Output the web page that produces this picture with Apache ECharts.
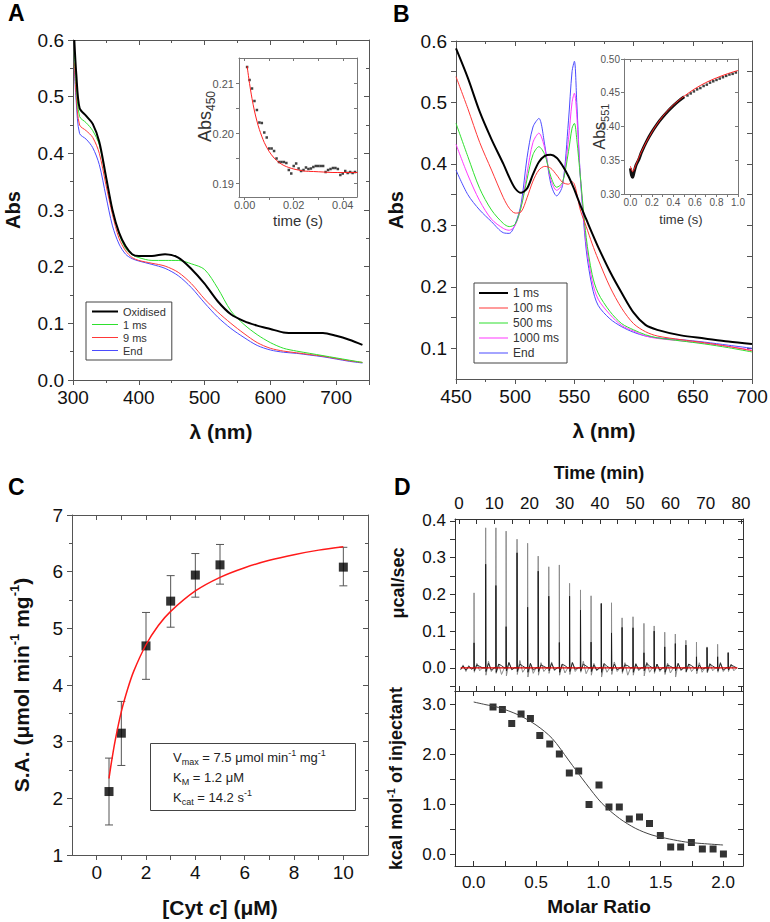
<!DOCTYPE html>
<html>
<head>
<meta charset="utf-8">
<script src="https://cdn.jsdelivr.net/npm/echarts@6/dist/echarts.min.js"></script>
<style>html,body{margin:0;padding:0;background:#fff}#fig{width:770px;height:922px}</style>
</head>
<body>
<div id="fig"></div>
<script>
var FONT = 'Liberation Sans, Arial, sans-serif';

// ---- panel A: spectra (nm / Abs) ----
var wlA = [302, 305, 310, 320, 330, 340, 350, 360, 370, 380, 390, 400, 420, 440, 460, 480, 500, 520, 540, 560, 580, 600, 620, 640, 660, 680, 700, 720, 740];
var oxA = [0.60, 0.54, 0.48, 0.466, 0.452, 0.42, 0.36, 0.30, 0.26, 0.236, 0.222, 0.219, 0.219, 0.222, 0.216, 0.196, 0.170, 0.139, 0.116, 0.104, 0.096, 0.090, 0.084, 0.083, 0.083, 0.083, 0.078, 0.071, 0.062];
var ms1A = [0.58, 0.52, 0.465, 0.454, 0.44, 0.415, 0.357, 0.30, 0.258, 0.232, 0.221, 0.216, 0.211, 0.211, 0.211, 0.205, 0.195, 0.162, 0.122, 0.098, 0.080, 0.066, 0.056, 0.051, 0.047, 0.043, 0.039, 0.035, 0.031];
var ms9A = [0.56, 0.50, 0.45, 0.44, 0.428, 0.40, 0.345, 0.292, 0.25, 0.228, 0.216, 0.211, 0.206, 0.201, 0.190, 0.170, 0.143, 0.120, 0.100, 0.082, 0.066, 0.056, 0.051, 0.048, 0.045, 0.042, 0.038, 0.034, 0.031];
var endA = [0.55, 0.49, 0.435, 0.425, 0.41, 0.38, 0.325, 0.272, 0.24, 0.222, 0.214, 0.21, 0.204, 0.197, 0.184, 0.163, 0.136, 0.111, 0.091, 0.075, 0.061, 0.053, 0.049, 0.047, 0.044, 0.041, 0.037, 0.033, 0.030];
// inset A: Abs450 vs time
var tA = [0.001, 0.002, 0.003, 0.004, 0.005, 0.006, 0.007, 0.008, 0.009, 0.010, 0.011, 0.012, 0.013, 0.014, 0.015, 0.016, 0.017, 0.018, 0.019, 0.020, 0.021, 0.022, 0.023, 0.024, 0.025, 0.026, 0.027, 0.028, 0.029, 0.030, 0.031, 0.032, 0.033, 0.034, 0.035, 0.036, 0.037, 0.038, 0.039, 0.040, 0.041, 0.042, 0.043, 0.044, 0.045];
var vA = [0.2133, 0.2107, 0.2090, 0.2065, 0.2047, 0.2022, 0.2021, 0.2002, 0.1992, 0.1970, 0.1970, 0.1965, 0.1950, 0.1943, 0.1943, 0.1943, 0.1941, 0.1927, 0.1920, 0.1935, 0.1940, 0.1930, 0.1925, 0.1927, 0.1932, 0.1929, 0.1930, 0.1933, 0.1935, 0.1935, 0.1935, 0.1935, 0.1923, 0.1927, 0.1929, 0.1931, 0.1931, 0.1929, 0.1917, 0.1920, 0.1925, 0.1921, 0.1923, 0.1921, 0.1923];
var fitAt = [0.001, 0.002, 0.003, 0.004, 0.005, 0.006, 0.008, 0.010, 0.012, 0.014, 0.016, 0.018, 0.020, 0.024, 0.028, 0.032, 0.036, 0.040, 0.046];
var fitAv = [0.2135, 0.2100, 0.2070, 0.2045, 0.2025, 0.2008, 0.1982, 0.1964, 0.1951, 0.1942, 0.1936, 0.1932, 0.1929, 0.1925, 0.1924, 0.1923, 0.1922, 0.1922, 0.1922];

// ---- panel B: spectra ----
var wlB = [450, 460, 470, 480, 490, 495, 500, 505, 510, 515, 520, 525, 530, 535, 540, 545, 548, 550, 552, 555, 560, 565, 570, 580, 590, 600, 610, 620, 640, 660, 680, 700];
var ms1B = [0.588, 0.54, 0.485, 0.44, 0.40, 0.378, 0.36, 0.353, 0.36, 0.383, 0.403, 0.413, 0.415, 0.41, 0.397, 0.38, 0.367, 0.358, 0.348, 0.333, 0.31, 0.287, 0.265, 0.225, 0.19, 0.158, 0.138, 0.13, 0.121, 0.116, 0.111, 0.107];
var ms100B = [0.542, 0.49, 0.435, 0.39, 0.345, 0.328, 0.32, 0.322, 0.345, 0.372, 0.39, 0.396, 0.393, 0.382, 0.37, 0.367, 0.371, 0.367, 0.352, 0.325, 0.298, 0.27, 0.245, 0.2, 0.165, 0.14, 0.127, 0.12, 0.114, 0.109, 0.103, 0.096];
var ms500B = [0.466, 0.412, 0.36, 0.325, 0.303, 0.298, 0.302, 0.33, 0.375, 0.415, 0.428, 0.415, 0.38, 0.362, 0.37, 0.42, 0.458, 0.466, 0.44, 0.38, 0.28, 0.22, 0.19, 0.16, 0.14, 0.13, 0.122, 0.117, 0.112, 0.107, 0.101, 0.094];
var ms1000B = [0.432, 0.382, 0.34, 0.31, 0.295, 0.292, 0.3, 0.33, 0.385, 0.435, 0.45, 0.425, 0.375, 0.357, 0.368, 0.44, 0.5, 0.515, 0.48, 0.38, 0.27, 0.21, 0.18, 0.155, 0.137, 0.128, 0.12, 0.116, 0.112, 0.108, 0.103, 0.097];
var endB = [0.39, 0.35, 0.325, 0.306, 0.288, 0.287, 0.302, 0.335, 0.41, 0.46, 0.474, 0.43, 0.368, 0.348, 0.365, 0.47, 0.55, 0.567, 0.5, 0.38, 0.26, 0.2, 0.17, 0.148, 0.135, 0.126, 0.12, 0.117, 0.114, 0.11, 0.105, 0.1];
// inset B: Abs551 vs time
var tBline = [0, 0.01, 0.02, 0.03, 0.05, 0.08, 0.1, 0.15, 0.2, 0.25, 0.3, 0.35, 0.4, 0.45, 0.5];
var vBline = [0.338, 0.328, 0.325, 0.33, 0.342, 0.352, 0.361, 0.378, 0.392, 0.404, 0.414, 0.423, 0.431, 0.438, 0.444];
var tBdots = [0.53, 0.56, 0.59, 0.62, 0.65, 0.68, 0.71, 0.74, 0.77, 0.80, 0.83, 0.86, 0.89, 0.92, 0.95, 0.98];
var vBdots = [0.446, 0.449, 0.452, 0.455, 0.457, 0.460, 0.462, 0.465, 0.467, 0.469, 0.471, 0.473, 0.475, 0.477, 0.478, 0.480];
var fitBt = [0, 0.02, 0.05, 0.1, 0.2, 0.3, 0.4, 0.5, 0.6, 0.7, 0.8, 0.9, 1.0];
var fitBv = [0.341, 0.333, 0.343, 0.362, 0.392, 0.415, 0.432, 0.445, 0.456, 0.465, 0.472, 0.478, 0.483];

// ---- panel C: specific activity ----
var cytX = [0.5, 1, 2, 3, 4, 5, 10];
var saY = [2.12, 3.15, 4.69, 5.48, 5.94, 6.12, 6.08];
var saLo = [1.53, 2.58, 4.10, 5.02, 5.55, 5.78, 5.75];
var saHi = [2.71, 3.71, 5.28, 5.93, 6.32, 6.48, 6.43];
var mmX = [0.5, 0.6, 0.75, 1, 1.25, 1.5, 2, 2.5, 3, 4, 5, 6, 7, 8, 9, 10];
var mmY = [2.35, 2.64, 3.02, 3.53, 3.92, 4.24, 4.71, 5.05, 5.30, 5.66, 5.90, 6.07, 6.20, 6.30, 6.38, 6.44];

// ---- panel D: ITC ----
var injT = [4.3, 7.6, 10.5, 13.4, 16.5, 19.5, 22.5, 25.5, 28.5, 31.4, 34.5, 37.5, 40.4, 43.3, 46.3, 49.4, 52.5, 55.4, 58.4, 61.4, 64.4, 67.4, 70.4, 73.4, 76.4];
var pkGray = [0.204, 0.381, 0.381, 0.372, 0.350, 0.339, 0.304, 0.275, 0.280, 0.230, 0.212, 0.196, 0.175, 0.177, 0.136, 0.139, 0.121, 0.114, 0.097, 0.092, 0.075, 0.070, 0.057, 0.064, 0.042];
var pkBlack = [0.068, 0.282, 0.224, 0.112, 0.313, 0.165, 0.263, 0.195, 0.069, 0.195, 0.157, 0.070, 0.175, 0.095, 0.110, 0.109, 0.041, 0.100, 0.057, 0.066, 0.062, 0.030, 0.055, 0.030, 0.041];
var dipGray = [-0.012, -0.02, -0.015, -0.022, -0.018, -0.025, -0.02, -0.015, -0.02, -0.018, -0.012, -0.02, -0.025, -0.018, -0.015, -0.02, -0.022, -0.015, -0.018, -0.025, -0.012, -0.016, -0.014, -0.012, -0.01];
var upGray = [0.012, 0.018, 0.01, 0.015, 0.02, 0.012, 0.014, 0.016, 0.01, 0.015, 0.018, 0.012, 0.01, 0.016, 0.014, 0.012, 0.015, 0.01, 0.013, 0.012, 0.01, 0.014, 0.012, 0.015, 0.01];
var midGray = [-0.008, -0.01, -0.018, -0.006, -0.012, -0.015, -0.01, -0.008, -0.014, -0.01, -0.016, -0.008, -0.012, -0.01, -0.02, -0.008, -0.012, -0.01, -0.014, -0.008, -0.01, -0.012, -0.008, -0.01, -0.008];
var dipBlack = [-0.008, -0.01, -0.012, -0.008, -0.01, -0.012, -0.01, -0.008, -0.012, -0.01, -0.008, -0.01, -0.012, -0.008, -0.01, -0.012, -0.008, -0.01, -0.012, -0.008, -0.01, -0.008, -0.01, -0.008, -0.006];
var upBlack = [0.008, 0.012, 0.01, 0.014, 0.01, 0.012, 0.008, 0.012, 0.01, 0.014, 0.01, 0.008, 0.012, 0.01, 0.008, 0.01, 0.012, 0.01, 0.008, 0.012, 0.01, 0.008, 0.01, 0.012, 0.008];
var midBlack = [0.004, -0.006, 0.006, -0.004, 0.005, -0.006, 0.004, -0.005, 0.006, -0.004, 0.005, -0.006, 0.004, -0.005, 0.006, -0.004, 0.005, -0.006, 0.004, -0.005, 0.006, -0.004, 0.005, -0.006, 0.004];
var preT = [0.5, 1.2, 2.0, 2.8, 3.6];
var preGray = [-0.006, 0.008, -0.01, 0.006, -0.004];
var preBlack = [-0.004, 0.005, -0.006, 0.004, -0.003];
var baseT = [0.5, 79];
var baseV = [0, 0];
var molRatio = [0.155, 0.23, 0.305, 0.38, 0.455, 0.53, 0.61, 0.687, 0.767, 0.842, 0.925, 1.005, 1.085, 1.168, 1.248, 1.33, 1.41, 1.497, 1.58, 1.66, 1.746, 1.834, 1.92, 2.003];
var heat = [2.95, 2.90, 2.62, 2.81, 2.72, 2.38, 2.21, 2.01, 1.63, 1.67, 1.00, 1.39, 0.95, 0.95, 0.71, 0.75, 0.62, 0.38, 0.15, 0.15, 0.24, 0.11, 0.11, 0.01];
var fitMr = [0.0, 0.09, 0.2, 0.36, 0.5, 0.63, 0.76, 0.9, 1.03, 1.17, 1.3, 1.43, 1.57, 1.7, 1.83, 2.0];
var fitHeat = [3.05, 3.0, 2.94, 2.79, 2.59, 2.32, 1.89, 1.42, 1.02, 0.72, 0.52, 0.39, 0.31, 0.25, 0.22, 0.19];

function pairs(xs, ys) {
  return xs.map(function (x, i) { return [x, ys[i]]; });
}

function itcTrace(pk, dip, up, mid, pre) {
  var d = pairs(preT, pre);
  injT.forEach(function (t, i) {
    d.push([t - 0.03, 0], [t, pk[i]], [t + 0.08, dip[i]], [t + 0.8, up[i]], [t + 1.6, mid[i]], [t + 2.4, 0]);
  });
  d.push([79, 0]);
  return d;
}

function ax(grid, pos, min, max, o) {
  o = o || {};
  var col = o.color || '#555';
  var a = {
    type: 'value', gridIndex: grid, position: pos, min: min, max: max,
    splitLine: {show: false},
    axisLine: {show: true, onZero: false, lineStyle: {color: col, width: 1}},
    axisTick: {show: true, inside: !!o.inside, length: o.tickLen || 5, lineStyle: {color: col}},
    axisLabel: {show: false},
    nameMoveOverlap: false
  };
  if (o.interval) a.interval = o.interval;
  if (o.ticks) a.axisTick.customValues = o.ticks;
  if (o.minor) a.minorTick = {show: true, splitNumber: o.minor, length: 3, lineStyle: {color: col}};
  if (o.labels) {
    a.axisLabel = {show: true, fontSize: o.fs, color: o.labelColor || '#111', fontFamily: FONT, margin: o.margin};
    if (o.fmt) a.axisLabel.formatter = o.fmt;
    if (o.labels !== true) a.axisLabel.customValues = o.labels;
  }
  if (o.name) {
    a.name = o.name;
    a.nameLocation = 'middle';
    a.nameGap = o.nameGap;
    a.nameTextStyle = o.nameStyle;
  }
  return a;
}

function bold(sz, extra) {
  var s = {fontSize: sz, fontWeight: 'bold', color: '#111', fontFamily: FONT};
  for (var k in extra) s[k] = extra[k];
  return s;
}
function f1(v) { return v.toFixed(1); }
function f2(v) { return v.toFixed(2); }

// legend line samples: thin bar inside a full-height box
function barIcon(w, h, y0, th) {
  return 'path://M0,0h0.01v0.01h-0.01z M0,' + y0 + 'h' + w + 'v' + th + 'h-' + w + 'z M0,' + h + 'h0.01v0.01h-0.01z';
}
var thinA = barIcon(26, 11, 5, 1), thickA = barIcon(26, 11, 4.5, 2);
var thinB = barIcon(29, 12, 5.5, 1), thickB = barIcon(29, 12, 5, 2);

var ticksC = [0, 1, 2, 3, 4, 5, 6, 7, 8, 9, 10];
var ticksBy = [0.1, 0.15, 0.2, 0.25, 0.3, 0.35, 0.4, 0.45, 0.5, 0.55, 0.6];
var ticksD1x = [0, 5, 10, 15, 20, 25, 30, 35, 40, 45, 50, 55, 60, 65, 70, 75, 80];
var ticksD1y = [-0.05, 0, 0.05, 0.1, 0.15, 0.2, 0.25, 0.3, 0.35, 0.4];
var ticksD2x = [0, 0.25, 0.5, 0.75, 1, 1.25, 1.5, 1.75, 2];
var ticksD2y = [0, 0.5, 1, 1.5, 2, 2.5, 3];
var DC = '#333';

var chart = echarts.init(document.getElementById('fig'), null, {renderer: 'svg'});

var option = {
  animation: false,
  backgroundColor: '#fff',
  textStyle: {fontFamily: FONT},
  grid: [
    {left: 73, top: 40, width: 296, height: 340, outerBoundsMode: 'none'},
    {left: 239, top: 58, width: 118, height: 139, outerBoundsMode: 'none'},
    {left: 456, top: 41, width: 296, height: 338, outerBoundsMode: 'none'},
    {left: 624, top: 59, width: 114, height: 135, outerBoundsMode: 'none'},
    {left: 72, top: 515, width: 296, height: 340, outerBoundsMode: 'none'},
    {left: 455, top: 519, width: 288, height: 172, outerBoundsMode: 'none'},
    {left: 455, top: 691, width: 288, height: 175, outerBoundsMode: 'none'}
  ],
  xAxis: [
    ax(0, 'bottom', 300, 750, {interval: 100, minor: 2, labels: true, fs: 19, margin: 8,
      fmt: function (v) { return v > 740 ? '' : String(v); },
      name: 'λ (nm)', nameGap: 41, nameStyle: bold(21)}),
    ax(0, 'top', 300, 750, {interval: 100, minor: 2, inside: true}),
    ax(1, 'bottom', -0.0023, 0.0458, {color: '#777', tickLen: 3, ticks: [0, 0.01, 0.02, 0.03, 0.04],
      labels: [0, 0.02, 0.04], fs: 11, labelColor: '#555', margin: 2, fmt: f2,
      name: 'time (s)', nameGap: 16, nameStyle: {fontSize: 15, color: '#333', fontFamily: FONT}}),
    ax(1, 'top', -0.0023, 0.0458, {color: '#777', tickLen: 3, inside: true, ticks: [0, 0.01, 0.02, 0.03, 0.04]}),
    ax(2, 'bottom', 450, 700, {interval: 50, minor: 2, labels: true, fs: 19, margin: 8,
      name: 'λ (nm)', nameGap: 41, nameStyle: bold(21)}),
    ax(2, 'top', 450, 700, {interval: 50, minor: 2, inside: true}),
    ax(3, 'bottom', -0.06, 1.0, {color: '#777', tickLen: 3, ticks: [0, 0.1, 0.2, 0.3, 0.4, 0.5, 0.6, 0.7, 0.8, 0.9, 1.0],
      labels: [0, 0.2, 0.4, 0.6, 0.8, 1.0], fs: 10, labelColor: '#555', margin: 3, fmt: f1,
      name: 'time (s)', nameGap: 19, nameStyle: {fontSize: 13, color: '#333', fontFamily: FONT}}),
    ax(3, 'top', -0.06, 1.0, {color: '#777', tickLen: 3, inside: true, ticks: [0, 0.1, 0.2, 0.3, 0.4, 0.5, 0.6, 0.7, 0.8, 0.9, 1.0]}),
    ax(4, 'bottom', -1, 11, {ticks: ticksC, labels: [0, 2, 4, 6, 8, 10], fs: 19, margin: 8,
      name: '[Cyt {i|c}] (μM)', nameGap: 42,
      nameStyle: bold(21, {rich: {i: {fontSize: 21, fontWeight: 'bold', fontStyle: 'italic', fontFamily: FONT, color: '#111'}}})}),
    ax(4, 'top', -1, 11, {ticks: ticksC, inside: true}),
    ax(5, 'top', -1.1, 80.6, {color: DC, inside: true, ticks: ticksD1x, labels: [0, 10, 20, 30, 40, 50, 60, 70, 80],
      fs: 17, margin: 7, name: 'Time (min)', nameGap: 37, nameStyle: bold(18)}),
    ax(5, 'bottom', -1.1, 80.6, {color: DC, inside: true, ticks: ticksD1x}),
    ax(6, 'bottom', -0.15, 2.16, {color: DC, inside: true, ticks: ticksD2x, labels: [0, 0.5, 1, 1.5, 2],
      fs: 17, margin: 8, fmt: f1, name: 'Molar Ratio', nameGap: 31, nameStyle: bold(19)}),
    ax(6, 'top', -0.15, 2.16, {color: DC, inside: true, ticks: ticksD2x})
  ],
  yAxis: [
    ax(0, 'left', 0, 0.6, {interval: 0.1, minor: 2, labels: true, fs: 19, margin: 9, fmt: f1,
      name: 'Abs', nameGap: 50, nameStyle: bold(20)}),
    ax(0, 'right', 0, 0.6, {interval: 0.1, minor: 2, inside: true}),
    ax(1, 'left', 0.1873, 0.2151, {color: '#777', tickLen: 3, ticks: [0.19, 0.195, 0.2, 0.205, 0.21],
      labels: [0.19, 0.2, 0.21], fs: 11, labelColor: '#555', margin: 5, fmt: f2,
      name: '{a|Abs}{s|450}', nameGap: 22,
      nameStyle: {color: '#333', fontFamily: FONT, fontSize: 18, lineHeight: 24, padding: [0, 0, 0, 22], rich: {
        a: {fontSize: 18, lineHeight: 24, fontFamily: FONT, color: '#333'},
        s: {fontSize: 12, lineHeight: 12, verticalAlign: 'bottom', fontFamily: FONT, color: '#333'}}}}),
    ax(1, 'right', 0.1873, 0.2151, {color: '#777', tickLen: 3, inside: true, ticks: [0.19, 0.195, 0.2, 0.205, 0.21]}),
    ax(2, 'left', 0.05, 0.6, {ticks: ticksBy, labels: [0.1, 0.2, 0.3, 0.4, 0.5, 0.6], fs: 19, margin: 9, fmt: f1,
      name: 'Abs', nameGap: 50, nameStyle: bold(20)}),
    ax(2, 'right', 0.05, 0.6, {ticks: ticksBy, inside: true}),
    ax(3, 'left', 0.3, 0.5, {color: '#777', tickLen: 3, interval: 0.05, labels: true, fs: 10, labelColor: '#555',
      margin: 4, fmt: f2, name: '{a|Abs}{s|551}', nameGap: 14,
      nameStyle: {color: '#333', fontFamily: FONT, fontSize: 16, lineHeight: 22, rich: {
        a: {fontSize: 16, lineHeight: 22, fontFamily: FONT, color: '#333'},
        s: {fontSize: 11, lineHeight: 11, verticalAlign: 'bottom', fontFamily: FONT, color: '#333'}}}}),
    ax(3, 'right', 0.3, 0.5, {color: '#777', tickLen: 3, interval: 0.05, inside: true}),
    ax(4, 'left', 1, 7, {interval: 1, minor: 2, labels: true, fs: 19, margin: 9,
      name: 'S.A. (μmol min{p|-1} mg{p|-1})', nameGap: 38,
      nameStyle: bold(21, {lineHeight: 26, rich: {p: {fontSize: 13, fontWeight: 'bold', lineHeight: 13, verticalAlign: 'top', fontFamily: FONT, color: '#111'}}})}),
    ax(4, 'right', 1, 7, {interval: 1, minor: 2, inside: true}),
    ax(5, 'left', -0.063, 0.405, {color: DC, ticks: ticksD1y, labels: [0, 0.1, 0.2, 0.3, 0.4], fs: 17, margin: 9, fmt: f1,
      name: 'μcal/sec', nameGap: 48, nameStyle: bold(18, {padding: [0, 0, 0, 44]})}),
    ax(5, 'right', -0.063, 0.405, {color: DC, inside: true, ticks: ticksD1y}),
    ax(6, 'left', -0.23, 3.27, {color: DC, ticks: ticksD2y, labels: [0, 1, 2, 3], fs: 17, margin: 9, fmt: f1,
      name: 'kcal mol{p|-1} of injectant', nameGap: 48,
      nameStyle: bold(18, {lineHeight: 22, rich: {p: {fontSize: 11, fontWeight: 'bold', lineHeight: 11, verticalAlign: 'top', fontFamily: FONT, color: '#111'}}})}),
    ax(6, 'right', -0.23, 3.27, {color: DC, inside: true, ticks: ticksD2y})
  ],
  legend: [
    {
      data: [{name: 'Oxidised', icon: thickA}, {name: '1 ms', icon: thinA}, {name: '9 ms', icon: thinA}, {name: 'End', icon: thinA}],
      orient: 'vertical', left: 86, top: 302, symbolKeepAspect: false,
      itemWidth: 26, itemHeight: 11, itemGap: 2, padding: [4, 6, 4, 6], selectedMode: false,
      borderColor: '#444', borderWidth: 1, backgroundColor: '#fff',
      textStyle: {fontSize: 11, color: '#333', fontFamily: FONT}
    },
    {
      data: [{name: 'b1 ms', icon: thickB}, {name: 'b100 ms', icon: thinB}, {name: 'b500 ms', icon: thinB},
        {name: 'b1000 ms', icon: thinB}, {name: 'bEnd', icon: thinB}],
      orient: 'vertical', left: 474, top: 283, symbolKeepAspect: false,
      itemWidth: 29, itemHeight: 12, itemGap: 3, padding: [4, 8, 4, 5], selectedMode: false,
      borderColor: '#444', borderWidth: 1, backgroundColor: '#fff',
      formatter: function (n) { return n.slice(1); },
      textStyle: {fontSize: 12, color: '#333', fontFamily: FONT}
    }
  ],
  graphic: [
    {type: 'text', x: 8, y: 13, style: {text: 'A', fontSize: 23, fontWeight: 'bold', fontFamily: FONT, fill: '#000', verticalAlign: 'middle'}},
    {type: 'text', x: 393, y: 14, style: {text: 'B', fontSize: 23, fontWeight: 'bold', fontFamily: FONT, fill: '#000', verticalAlign: 'middle'}},
    {type: 'text', x: 8, y: 487, style: {text: 'C', fontSize: 23, fontWeight: 'bold', fontFamily: FONT, fill: '#000', verticalAlign: 'middle'}},
    {type: 'text', x: 394, y: 487, style: {text: 'D', fontSize: 23, fontWeight: 'bold', fontFamily: FONT, fill: '#000', verticalAlign: 'middle'}},
    {type: 'rect', shape: {x: 150.5, y: 743.5, width: 205, height: 67}, style: {fill: '#fff', stroke: '#444', lineWidth: 1}, z: 10},
    {type: 'text', x: 173, y: 757, z: 11, style: {
      text: 'V{s|max} = 7.5 μmol min{p|-1} mg{p|-1}', fontSize: 13, fontFamily: FONT, fill: '#222', verticalAlign: 'middle', lineHeight: 18,
      rich: {s: {fontSize: 9, lineHeight: 9, verticalAlign: 'bottom', fontFamily: FONT}, p: {fontSize: 9, lineHeight: 9, verticalAlign: 'top', fontFamily: FONT}}}},
    {type: 'text', x: 173, y: 777, z: 11, style: {
      text: 'K{s|M} = 1.2 μM', fontSize: 13, fontFamily: FONT, fill: '#222', verticalAlign: 'middle', lineHeight: 18,
      rich: {s: {fontSize: 9, lineHeight: 9, verticalAlign: 'bottom', fontFamily: FONT}}}},
    {type: 'text', x: 173, y: 797, z: 11, style: {
      text: 'K{s|cat} = 14.2 s{p|-1}', fontSize: 13, fontFamily: FONT, fill: '#222', verticalAlign: 'middle', lineHeight: 18,
      rich: {s: {fontSize: 9, lineHeight: 9, verticalAlign: 'bottom', fontFamily: FONT}, p: {fontSize: 9, lineHeight: 9, verticalAlign: 'top', fontFamily: FONT}}}}
  ],
  series: [
    // A
    {name: 'End', type: 'line', xAxisIndex: 0, yAxisIndex: 0, data: pairs(wlA, endA), symbol: 'none', smooth: 0.3, lineStyle: {color: '#4b4bff', width: 1}, itemStyle: {color: '#4b4bff'}},
    {name: '9 ms', type: 'line', xAxisIndex: 0, yAxisIndex: 0, data: pairs(wlA, ms9A), symbol: 'none', smooth: 0.3, lineStyle: {color: '#ff3838', width: 1}, itemStyle: {color: '#ff3838'}},
    {name: '1 ms', type: 'line', xAxisIndex: 0, yAxisIndex: 0, data: pairs(wlA, ms1A), symbol: 'none', smooth: 0.3, lineStyle: {color: '#2ee02e', width: 1}, itemStyle: {color: '#2ee02e'}},
    {name: 'Oxidised', type: 'line', xAxisIndex: 0, yAxisIndex: 0, data: pairs(wlA, oxA), symbol: 'none', smooth: 0.3, lineStyle: {color: '#000', width: 2}, itemStyle: {color: '#000'}},
    // A inset
    {type: 'scatter', xAxisIndex: 2, yAxisIndex: 2, data: pairs(tA, vA), symbol: 'rect', symbolSize: 2.5, itemStyle: {color: '#111'}},
    {type: 'line', xAxisIndex: 2, yAxisIndex: 2, data: pairs(fitAt, fitAv), symbol: 'none', smooth: 0.3, lineStyle: {color: '#ff2020', width: 1}},
    // B
    {name: 'bEnd', type: 'line', xAxisIndex: 4, yAxisIndex: 4, data: pairs(wlB, endB), symbol: 'none', smooth: 0.3, lineStyle: {color: '#4b4bff', width: 1}, itemStyle: {color: '#4b4bff'}},
    {name: 'b1000 ms', type: 'line', xAxisIndex: 4, yAxisIndex: 4, data: pairs(wlB, ms1000B), symbol: 'none', smooth: 0.3, lineStyle: {color: '#ff38ff', width: 1}, itemStyle: {color: '#ff38ff'}},
    {name: 'b500 ms', type: 'line', xAxisIndex: 4, yAxisIndex: 4, data: pairs(wlB, ms500B), symbol: 'none', smooth: 0.3, lineStyle: {color: '#2ee02e', width: 1}, itemStyle: {color: '#2ee02e'}},
    {name: 'b100 ms', type: 'line', xAxisIndex: 4, yAxisIndex: 4, data: pairs(wlB, ms100B), symbol: 'none', smooth: 0.3, lineStyle: {color: '#ff3838', width: 1}, itemStyle: {color: '#ff3838'}},
    {name: 'b1 ms', type: 'line', xAxisIndex: 4, yAxisIndex: 4, data: pairs(wlB, ms1B), symbol: 'none', smooth: 0.3, lineStyle: {color: '#000', width: 2}, itemStyle: {color: '#000'}},
    // B inset
    {type: 'line', xAxisIndex: 6, yAxisIndex: 6, data: pairs(tBline, vBline), symbol: 'none', smooth: 0.3, lineStyle: {color: '#111', width: 3}},
    {type: 'scatter', xAxisIndex: 6, yAxisIndex: 6, data: pairs(tBdots, vBdots), symbol: 'rect', symbolSize: 2.5, itemStyle: {color: '#111'}},
    {type: 'line', xAxisIndex: 6, yAxisIndex: 6, data: pairs(fitBt, fitBv), symbol: 'none', smooth: 0.3, lineStyle: {color: '#ff2020', width: 1}},
    // C
    {
      type: 'custom', xAxisIndex: 8, yAxisIndex: 8,
      data: cytX.map(function (x, i) { return [x, saLo[i], saHi[i]]; }),
      encode: {x: 0, y: [1, 2]},
      renderItem: function (params, api) {
        var lo = api.coord([api.value(0), api.value(1)]);
        var hi = api.coord([api.value(0), api.value(2)]);
        var st = {stroke: '#555', lineWidth: 1};
        return {type: 'group', children: [
          {type: 'line', shape: {x1: lo[0], y1: lo[1], x2: hi[0], y2: hi[1]}, style: st},
          {type: 'line', shape: {x1: lo[0] - 4, y1: lo[1], x2: lo[0] + 4, y2: lo[1]}, style: st},
          {type: 'line', shape: {x1: hi[0] - 4, y1: hi[1], x2: hi[0] + 4, y2: hi[1]}, style: st}
        ]};
      }
    },
    {type: 'scatter', xAxisIndex: 8, yAxisIndex: 8, data: pairs(cytX, saY), symbol: 'rect', symbolSize: 9, itemStyle: {color: '#000'}},
    {type: 'line', xAxisIndex: 8, yAxisIndex: 8, data: pairs(mmX, mmY), symbol: 'none', smooth: 0.3, lineStyle: {color: '#ff1a1a', width: 1.5}},
    // D raw
    {type: 'line', xAxisIndex: 10, yAxisIndex: 10, data: itcTrace(pkGray, dipGray, upGray, midGray, preGray), symbol: 'none', lineStyle: {color: '#8c8c8c', width: 1}},
    {type: 'line', xAxisIndex: 10, yAxisIndex: 10, data: itcTrace(pkBlack, dipBlack, upBlack, midBlack, preBlack), symbol: 'none', lineStyle: {color: '#1a1a1a', width: 0.9}},
    {type: 'line', xAxisIndex: 10, yAxisIndex: 10, data: pairs(baseT, baseV), symbol: 'none', lineStyle: {color: '#e00000', width: 1.2}},
    // D integrated
    {type: 'line', xAxisIndex: 12, yAxisIndex: 12, data: pairs(fitMr, fitHeat), symbol: 'none', smooth: 0.3, lineStyle: {color: '#444', width: 1}},
    {type: 'scatter', xAxisIndex: 12, yAxisIndex: 12, data: pairs(molRatio, heat), symbol: 'rect', symbolSize: 7, itemStyle: {color: '#000'}}
  ]
};
chart.setOption(option);
</script>
</body>
</html>
